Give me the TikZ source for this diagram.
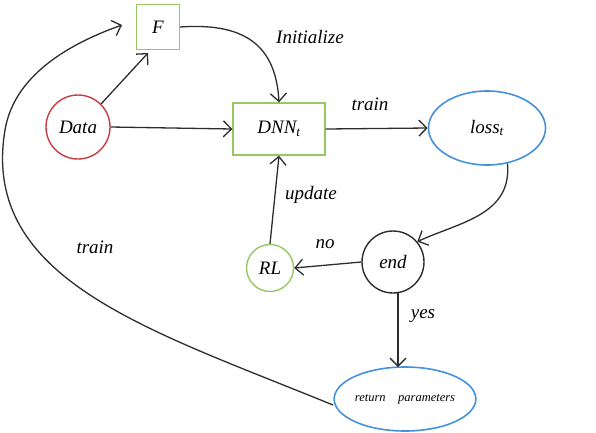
\documentclass[tikz,border=0pt]{standalone}
\usepackage{fontspec}
\setmainfont{Liberation Serif}
\usetikzlibrary{arrows.meta,shapes.geometric}
\definecolor{gbox}{RGB}{150,200,95}
\definecolor{rcirc}{RGB}{200,60,65}
\definecolor{bell}{RGB}{70,145,220}
\definecolor{lin}{RGB}{45,45,45}
\tikzset{
  every node/.style={font=\fontsize{19}{22}\selectfont\itshape},
  gboxn/.style={draw=gbox,line width=1.4pt,rectangle,inner sep=0pt},
  circn/.style={circle,line width=1.4pt,inner sep=0pt},
  elln/.style={ellipse,draw=bell,line width=1.6pt,inner sep=0pt},
  arr/.style={draw=lin,line width=1.3pt,-{Straight Barb[length=8pt,width=16pt,line width=1.3pt]}},
  lbl/.style={font=\fontsize{19}{22}\selectfont\itshape}
}
\begin{document}
\begin{tikzpicture}[x=1pt,y=-1pt]
\useasboundingbox (0,0) rectangle (596,432);
\node[gboxn,minimum width=43pt,minimum height=45pt] (F) at (158,27) {F};
\node[circn,draw=rcirc,minimum size=64pt] (D) at (78,127) {Data};
\node[gboxn,minimum width=92pt,minimum height=52pt] (N) at (279,129) {DNN\textsubscript{\itshape t}};
\node[elln,minimum width=117pt,minimum height=74pt] (L) at (487,128) {loss\textsubscript{\itshape t}};
\node[circn,draw=lin,minimum size=62pt] (E) at (393,262) {end};
\node[circn,draw=gbox,minimum size=47pt] (R) at (270,268) {RL};
\node[elln,minimum width=136pt,minimum height=64pt] (P) at (405,399) {\fontsize{12.5}{14}\selectfont return\quad parameters};
\coordinate (Ftop) at (148,53);
\coordinate (Es) at (398,292);
\coordinate (Pn) at (398,367);
\coordinate (Pw) at (333,405);
\coordinate (Fl) at (122,25);
\draw[arr] (D.45) -- (Ftop);
\draw[arr] (F.east) .. controls (250,22) and (276,50) .. (N.north);
\draw[arr] (D.east) -- (N.west);
\draw[arr] (N.east) -- (L.west);
\draw[arr] (L.300) .. controls (512,215) and (460,222) .. (E.40);
\draw[arr] (E.west) -- (R.east);
\draw[arr] (R.north) -- (N.south);
\draw[arr] (Es) -- (Pn);
\draw[arr] (Pw) .. controls (150,330) and (-20,280) .. (5,130) .. controls (15,70) and (80,40) .. (Fl);
\node[lbl] at (310,37) {Initialize};
\node[lbl] at (370,104) {train};
\node[lbl] at (311,195) {update};
\node[lbl] at (325,244) {no};
\node[lbl] at (423,316) {yes};
\node[lbl] at (95,247) {train};
\end{tikzpicture}
\end{document}
